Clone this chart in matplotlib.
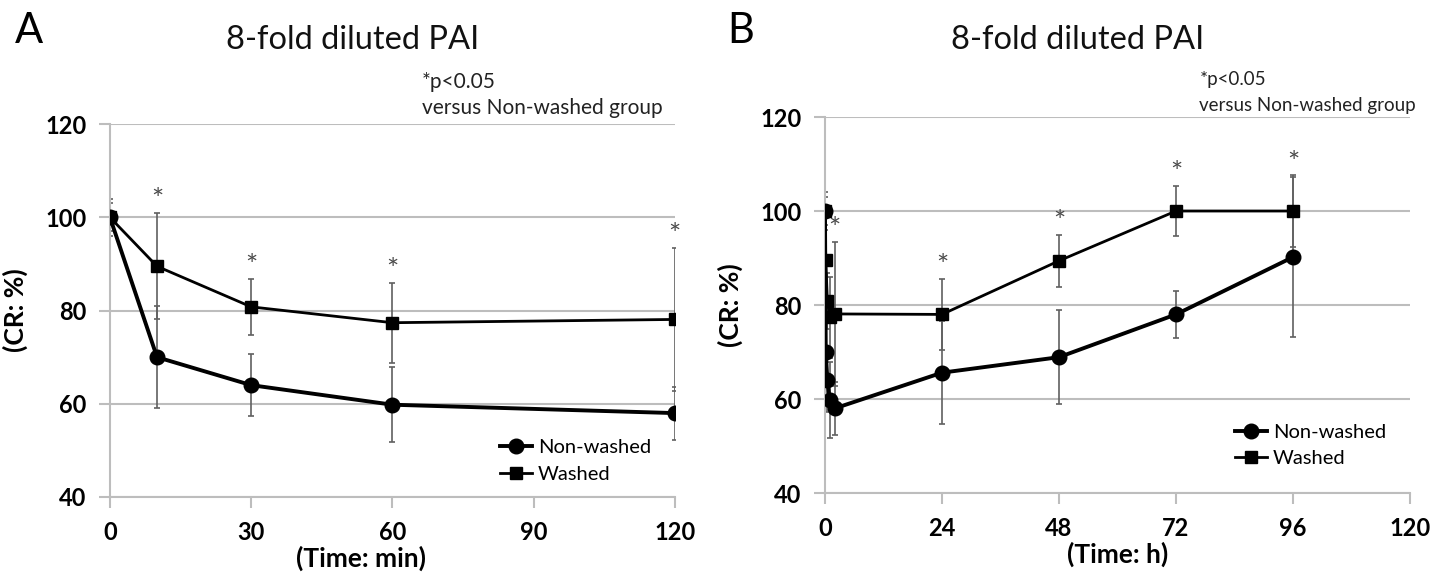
import numpy as np
import matplotlib
matplotlib.use('Agg')
from matplotlib import pyplot as plt

plt.rcParams['font.family'] = ['Lato', 'DejaVu Sans']

# panel A: minutes
t_min = [0, 10, 30, 60, 120]
nw_a = [100, 70, 64, 59.8, 58]
nw_a_err = [4, 11, 6.7, 8, 5.7]
w_a = [100, 89.5, 80.8, 77.4, 78.1]
w_a_err = [3, 11.4, 6, 8.6, 15.3]
star_a = [10, 30, 60, 120]

# panel B: hours
t_h = [0, 1/6, 0.5, 1, 2, 24, 48, 72, 96]
nw_b = [100, 70, 64, 59.8, 58, 65.6, 68.9, 78, 90.2]
nw_b_err = [4, 11, 6.7, 8, 5.7, 11, 10, 5, 17]
w_b = [100, 89.5, 80.8, 77.4, 78.1, 78, 89.4, 100, 100]
w_b_err = [3, 11.4, 6, 8.6, 15.3, 7.5, 5.5, 5.4, 7.6]
star_b = [2, 24, 48, 72, 96]

fig = plt.figure(figsize=(14.45, 5.75), dpi=100)
axA = fig.add_axes([0.0761, 0.1357, 0.3909, 0.6483])
axB = fig.add_axes([0.5709, 0.1426, 0.4049, 0.6539])

grey = '#bdbdbd'
errc = '#606060'


def draw(ax, t, nw, nwe, w, we, stars, xticks, xlabel, xlab_x, legend_pos):
    ax.errorbar(t, nw, yerr=nwe, fmt='none', ecolor=errc, elinewidth=1.2,
                capsize=2.5, capthick=1.2, zorder=2)
    ax.errorbar(t, w, yerr=we, fmt='none', ecolor=errc, elinewidth=1.2,
                capsize=2.5, capthick=1.2, zorder=2)
    ax.plot(t, nw, '-o', color='black', lw=2.8, ms=10.5, label='Non-washed', zorder=3)
    ax.plot(t, w, '-s', color='black', lw=2.0, ms=8, label='Washed', zorder=3)
    for s in stars:
        i = t.index(s)
        ax.text(s, w[i] + we[i] + 0.8, '*', ha='center', va='baseline',
                fontsize=21, color='#4a4a4a')
    ax.set_xlim(0, 120)
    ax.set_ylim(40, 120)
    ax.set_xticks(xticks)
    ax.set_yticks([40, 60, 80, 100, 120])
    ax.yaxis.grid(True, color=grey, lw=1.5)
    ax.set_axisbelow(True)
    for sp in ['top', 'right']:
        ax.spines[sp].set_visible(False)
    ax.spines['left'].set_color(grey)
    ax.spines['bottom'].set_color(grey)
    ax.spines['left'].set_linewidth(1.5)
    ax.spines['bottom'].set_linewidth(1.5)
    ax.tick_params(axis='both', colors=grey, length=8, width=1.5,
                   labelcolor='black', labelsize=17, pad=9)
    for lb in ax.get_xticklabels() + ax.get_yticklabels():
        lb.set_fontweight('bold')
    ax.set_xlabel(xlabel, fontsize=19, fontweight='bold')
    ax.xaxis.set_label_coords(xlab_x, -0.13)
    ax.set_ylabel('(CR: %)', fontsize=19, fontweight='bold', labelpad=12)
    ax.legend(loc='lower right', bbox_to_anchor=legend_pos, frameon=False,
              fontsize=14.5, handlelength=1.6, handletextpad=0.3, labelspacing=0.45)


draw(axA, t_min, nw_a, nw_a_err, w_a, w_a_err, star_a, [0, 30, 60, 90, 120],
     '(Time: min)', 0.444, (0.99, -0.01))
draw(axB, t_h, nw_b, nw_b_err, w_b, w_b_err, star_b, [0, 24, 48, 72, 96, 120],
     '(Time: h)', 0.5, (0.99, 0.02))

fig.text(0.010, 0.925, 'A', fontsize=30, color='black')
fig.text(0.503, 0.925, 'B', fontsize=30, color='black')
fig.text(0.244, 0.93, '8-fold diluted PAI', fontsize=23.5, color='#111111',
         ha='center', va='center')
fig.text(0.746, 0.93, '8-fold diluted PAI', fontsize=23.5, color='#111111',
         ha='center', va='center')
fig.text(0.292, 0.857, '*p<0.05', fontsize=15, color='#222222', va='center')
fig.text(0.292, 0.812, 'versus Non-washed group', fontsize=15, color='#222222',
         va='center')
fig.text(0.830, 0.861, '*p<0.05', fontsize=13.5, color='#222222', va='center')
fig.text(0.830, 0.817, 'versus Non-washed group', fontsize=13.5, color='#222222',
         va='center')

fig.savefig('out.png', dpi=100)
